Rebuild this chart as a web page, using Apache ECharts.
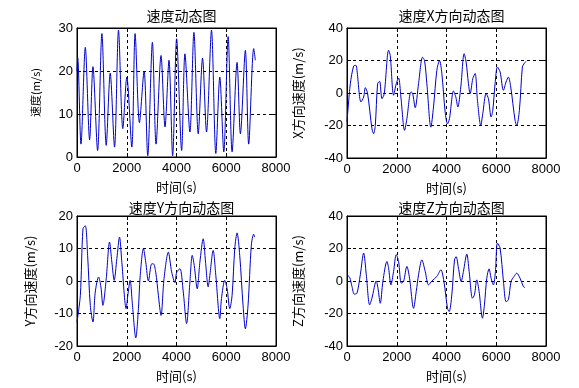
<!DOCTYPE html>
<html><head><meta charset="utf-8">
<script src="https://cdn.jsdelivr.net/npm/echarts@6/dist/echarts.min.js"></script>
<style>html,body{margin:0;padding:0;background:#fff}#c{width:579px;height:388px}</style>
</head><body><div id="c"></div>
<script>
// ---- data ----
var titles = ['速度动态图', '速度X方向动态图', '速度Y方向动态图', '速度Z方向动态图'];
var yNames = ['速度(m/s)', 'X方向速度(m/s)', 'Y方向速度(m/s)', 'Z方向速度(m/s)'];
var xName = '时间(s)';
var xTicks = [0, 2000, 4000, 6000, 8000];
var yRanges = [[0, 30, 10], [-40, 40, 20], [-20, 20, 10], [-40, 40, 20]];

var tSpeed = [0, 30, 160, 334, 507, 641, 828, 1001, 1175, 1335, 1509, 1669, 1842, 2003, 2203, 2336, 2510, 2697, 2844, 3031, 3178, 3378, 3538, 3698, 3845, 4005, 4206, 4339, 4539, 4700, 4873, 5047, 5207, 5407, 5581, 5741, 5901, 6075, 6235, 6435, 6569, 6769, 6902, 7103, 7170];
var vSpeed = [20, 23, 3, 25.5, 4, 21, 1.5, 28.7, 2.7, 19.5, 2.3, 29.5, 6.6, 18.6, 2.3, 28.7, 8, 20, 0.3, 26.7, 3, 23.6, 7, 22.5, 0.3, 27.5, 1.5, 24, 5.8, 29, 5.4, 23, 5.8, 29.5, 0.8, 18.6, 1.2, 28, 1.2, 22, 5.4, 24.8, 3, 25.2, 22.5];

var tX = [0, 134, 268, 361, 401, 562, 669, 736, 829, 1003, 1070, 1137, 1231, 1311, 1405, 1498, 1672, 1739, 1873, 1980, 2074, 2167, 2314, 2408, 2569, 2635, 2742, 2876, 3037, 3117, 3211, 3371, 3478, 3612, 3719, 3813, 3946, 4040, 4120, 4281, 4375, 4455, 4575, 4709, 4789, 4883, 4950, 5057, 5151, 5244, 5378, 5458, 5592, 5686, 5793, 5860, 5953, 6047, 6154, 6288, 6395, 6488, 6582, 6756, 6823, 6930, 7050, 7117, 7197];
var vX = [-17.8, 5.7, 16.6, 17, 14, -5.5, -2.5, 3.3, -0.4, -22, -25, -20, 5.7, 7.2, -3.5, -0.4, 26.3, 23, -1.4, 5.7, 9.2, -2.5, -23, -15.8, 0.6, 0, -9, 5.7, 22, 20, 5.7, -21, -8.6, 14, 20, 12, -11.7, -19, -15.8, 1.2, -2.5, -8.6, 3.7, 24.2, 19, 5.7, -0.4, 8.8, 12, -4.5, -20, -12.7, -0.4, -3.5, -14.8, -10.7, 5.7, 16, 13, 1.6, 6.8, 9.8, 3.7, -16.8, -20, -10.7, 16, 18, 19.5];

var tY = [0, 134, 240, 334, 427, 534, 641, 734, 868, 961, 1041, 1175, 1308, 1402, 1495, 1602, 1709, 1802, 1976, 2043, 2136, 2230, 2363, 2470, 2537, 2670, 2764, 2870, 3004, 3071, 3164, 3271, 3378, 3498, 3672, 3805, 3939, 4005, 4139, 4272, 4406, 4539, 4633, 4713, 4833, 4940, 5073, 5167, 5274, 5340, 5474, 5581, 5741, 5808, 5941, 6035, 6142, 6235, 6342, 6435, 6542, 6676, 6769, 6876, 7009, 7103, 7143];
var vY = [-12.6, -4.4, 16.1, 17, 7.9, -7.5, -12.6, -3.4, 1.2, -1.8, -7.5, 0.7, 12, 5.8, 0.2, 6.9, 13.5, 5.8, -8.5, -4.4, 0.2, -7.5, -17.5, -8.5, 1.2, 10, 5.8, 0, 5.3, 5.3, 2.8, -4.4, -10.6, 0.7, 8.9, 2.8, -0.5, 2.6, 3.8, -3.4, -13.1, -0.3, 7.9, 4.8, -2.4, 5.8, 13, 5.8, -1.8, 1.7, 9.4, 1.7, -11.6, -5.4, 0.2, -2.4, -8.5, -4.4, 10, 14.8, 7.9, -7.5, -14.7, -7.5, 11, 14.4, 13.5];

var tZ = [0, 107, 201, 294, 401, 535, 669, 776, 910, 1003, 1177, 1244, 1338, 1445, 1605, 1672, 1766, 1873, 1980, 2074, 2181, 2274, 2408, 2515, 2676, 2783, 2876, 3010, 3144, 3278, 3411, 3612, 3773, 3906, 4040, 4107, 4214, 4321, 4388, 4482, 4589, 4682, 4816, 4910, 5043, 5124, 5217, 5311, 5445, 5525, 5619, 5712, 5793, 5886, 5967, 6047, 6154, 6288, 6395, 6488, 6595, 6716, 6823, 6957, 7090, 7157];
var vZ = [3.8, 2.2, -3.4, -8.1, -7.5, 3.8, 17.2, 3.8, -14.7, -10.6, 0, -4.4, -13.7, 0, 12, 7.9, -2.4, 5.9, 16.2, 12, -1.3, -0.3, 9, 1.7, -16.8, -6.5, 3.8, 13, 5.9, -2.4, 0, 2.8, 6.9, -1.3, -16.8, -18.8, -8.5, 13, 15, 7.9, -0.3, 6, 16.6, 6, -10.6, -8.5, 0.7, -6.5, -22.9, -14.7, 1.7, 7.5, 1.7, -2.4, 5.9, 23.3, 20.3, 0, -12.7, -11.6, -0.3, 2.8, 4.8, 1.7, -3.4, -4];

var seriesT = [tSpeed, tX, tY, tZ];
var seriesV = [vSpeed, vX, vY, vZ];

// ---- layout ----
var grids = [
  {left: 77, top: 28, width: 199, height: 129},
  {left: 347, top: 28, width: 199, height: 130},
  {left: 77, top: 216, width: 199, height: 130},
  {left: 347, top: 216, width: 199, height: 130}
];
var yNameGap = [36, 42, 40, 42];
var yNameSize = [11, 13, 13, 13];
var titleTop = [4, 4, 196, 196];
var FONT = "'Liberation Sans', Arial, 'Noto Sans CJK SC', sans-serif";
var CJK = "'Noto Sans CJK SC', 'Liberation Sans', sans-serif";
var plain = function (v) { return String(v); };

var option = {
  animation: false,
  backgroundColor: '#fff',
  title: [], grid: [], xAxis: [], yAxis: [], series: []
};
for (var i = 0; i < 4; i++) {
  var g = grids[i];
  option.grid.push({left: g.left, top: g.top, width: g.width, height: g.height,
    show: true, borderColor: '#000', borderWidth: 1, backgroundColor: '#fff'});
  option.title.push({text: titles[i], left: g.left + g.width / 2, top: titleTop[i], textAlign: 'center',
    textStyle: {fontFamily: CJK, fontSize: 14, fontWeight: 'normal', color: '#000'}});
  var tickStyle = {show: true, inside: true, length: 4, lineStyle: {color: '#000', width: 1}};
  option.xAxis.push({type: 'value', gridIndex: i, min: xTicks[0], max: xTicks[xTicks.length - 1], interval: xTicks[1] - xTicks[0],
    name: xName, nameLocation: 'middle', nameGap: 24,
    nameTextStyle: {fontFamily: CJK, fontSize: 13, color: '#000'},
    axisLine: {show: true, onZero: false, lineStyle: {color: '#000', width: 1}},
    axisTick: tickStyle,
    axisLabel: {fontFamily: FONT, fontSize: 13, color: '#000', margin: 5, formatter: plain},
    splitLine: {show: true, lineStyle: {color: '#000', type: [3, 3], width: 1}}});
  option.xAxis.push({type: 'value', gridIndex: i, position: 'top', min: xTicks[0], max: xTicks[xTicks.length - 1], interval: xTicks[1] - xTicks[0],
    axisLine: {show: true, onZero: false, lineStyle: {color: '#000'}}, axisTick: tickStyle, axisLabel: {show: false}, splitLine: {show: false}});
  var yr = yRanges[i];
  option.yAxis.push({type: 'value', gridIndex: i, min: yr[0], max: yr[1], interval: yr[2],
    name: yNames[i], nameLocation: 'middle', nameGap: yNameGap[i],
    nameTextStyle: {fontFamily: CJK, fontSize: yNameSize[i], color: '#000'},
    axisLine: {show: true, onZero: false, lineStyle: {color: '#000', width: 1}},
    axisTick: tickStyle,
    axisLabel: {fontFamily: FONT, fontSize: 13, color: '#000', margin: 4, formatter: plain},
    splitLine: {show: true, lineStyle: {color: '#000', type: [3, 3], width: 1}}});
  option.yAxis.push({type: 'value', gridIndex: i, position: 'right', min: yr[0], max: yr[1], interval: yr[2],
    axisLine: {show: true, onZero: false, lineStyle: {color: '#000'}}, axisTick: tickStyle, axisLabel: {show: false}, splitLine: {show: false}});
  var d = seriesT[i].map(function (t, k) { return [t, seriesV[i][k]]; });
  option.series.push({type: 'line', xAxisIndex: 2 * i, yAxisIndex: 2 * i, data: d,
    showSymbol: false, smooth: 0.3, lineStyle: {color: '#0000cc', width: 1}, z: 5});
}
var chart = echarts.init(document.getElementById('c'), null, {renderer: 'canvas'});
chart.setOption(option);
</script></body></html>
